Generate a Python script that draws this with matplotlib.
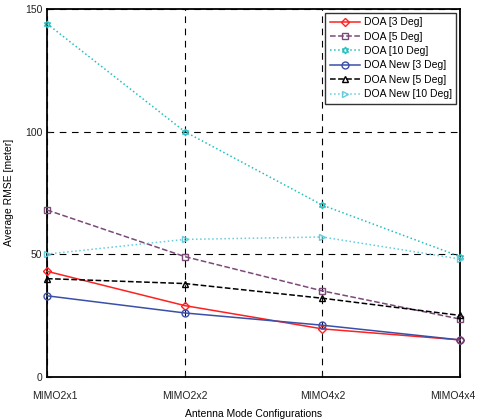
import matplotlib
matplotlib.use('Agg')
import matplotlib.pyplot as plt
import matplotlib.transforms as mtransforms

plt.rcParams['font.family'] = ['Liberation Sans', 'DejaVu Sans']

configs = ['MIMO2x1', 'MIMO2x2', 'MIMO4x2', 'MIMO4x4']
doa_3 = [43, 29, 19.5, 15]
doa_5 = [68, 49, 35, 23.5]
doa_10 = [144, 100, 70, 49]
doa_new_3 = [33, 26, 21, 15]
doa_new_5 = [40, 38, 32, 25]
doa_new_10 = [50, 56, 57, 48]

series = [
    ('DOA [3 Deg]', doa_3, '#ff2020', '-', 'D'),
    ('DOA [5 Deg]', doa_5, '#7a4a78', '--', 's'),
    ('DOA [10 Deg]', doa_10, '#22c0c0', ':', (6, 1, 0)),
    ('DOA New [3 Deg]', doa_new_3, '#3a50a8', '-', 'o'),
    ('DOA New [5 Deg]', doa_new_5, '#000000', '--', '^'),
    ('DOA New [10 Deg]', doa_new_10, '#66ccdd', ':', '>'),
]

fig = plt.figure(figsize=(4.82, 4.19), dpi=100)
ax = fig.add_axes([0.0975, 0.101, 0.857, 0.8775])

x = list(range(len(configs)))
for label, vals, color, ls, mk in series:
    ms = 4 if mk == 'D' else 5
    ax.plot(x, vals, linestyle=ls, color=color, marker=mk, markersize=ms,
            markerfacecolor='none', markeredgecolor=color, linewidth=1.1,
            label=label, clip_on=False, zorder=3)

ax.set_xlim(0, 3)
ax.set_ylim(0, 150)
ax.set_xticks(x)
ax.set_xticklabels(configs)
ax.set_yticks([0, 50, 100, 150])
ax.tick_params(direction='in', labelsize=7.5, length=3, colors='#222222')
ax.tick_params(axis='x', pad=10)
ax.grid(True, color='black', linestyle=(0, (6, 5)), linewidth=0.8)
for s in ax.spines.values():
    s.set_linewidth(1.3)

# nudge the end labels inward like the original
xlabels = ax.get_xticklabels()
xlabels[0].set_transform(xlabels[0].get_transform() +
                         mtransforms.ScaledTranslation(0.08, 0, fig.dpi_scale_trans))
xlabels[-1].set_transform(xlabels[-1].get_transform() +
                          mtransforms.ScaledTranslation(-0.07, 0, fig.dpi_scale_trans))

ax.set_xlabel('Antenna Mode Configurations', fontsize=7.5, labelpad=6)
ax.set_ylabel('Average RMSE [meter]', fontsize=7.5, labelpad=8)

leg = ax.legend(loc='upper right', fontsize=7.5, frameon=True, fancybox=False,
                edgecolor='black', borderaxespad=0.35, handlelength=2.9,
                handletextpad=0.35, labelspacing=0.42, borderpad=0.45)
leg.get_frame().set_linewidth(1.0)

fig.savefig('out.png', dpi=100)
